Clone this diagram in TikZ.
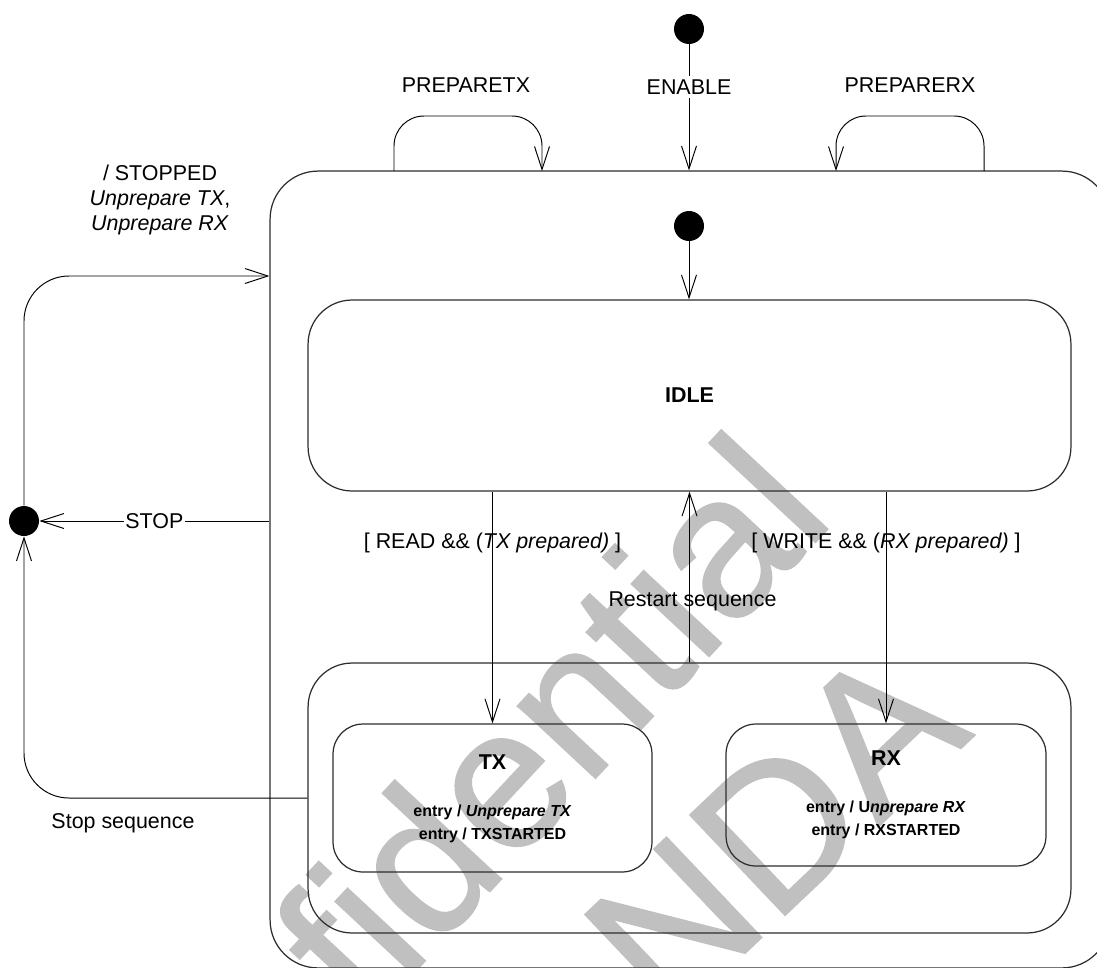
\documentclass[tikz,border=0pt]{standalone}
\usepackage{fontspec}
\setmainfont{Liberation Sans}
\newfontfamily\wmfont[FakeBold=1]{Liberation Sans}
\usetikzlibrary{arrows.meta,positioning}
\definecolor{wmgray}{RGB}{192,192,192}
\definecolor{boxline}{RGB}{45,45,45}

\begin{document}
\begin{tikzpicture}[x=0.02cm,y=-0.02cm,
  every node/.style={font=\fontsize{12.2}{14.2}\selectfont},
  statebox/.style={draw=boxline,line width=0.7pt,rounded corners=#1,inner sep=0pt},
  dot/.style={circle,fill=black,minimum size=0.6cm,inner sep=0pt},
  trans/.style={line width=0.55pt,-{Straight Barb[length=4.6mm,width=3mm]}},
  bold/.style={font=\fontsize{12.2}{14.2}\selectfont\bfseries},
  entry/.style={font=\fontsize{9.1}{13}\selectfont\bfseries,align=center},
  wmark/.style={text=wmgray,font=\wmfont\fontsize{114}{114}\selectfont,inner sep=0pt}]
\useasboundingbox (0,0) rectangle (1097,967);

% watermark
\node[wmark,rotate=47,anchor=base] (wmconf) at (476,906) {Confidential};
\node[wmark,rotate=43.5,anchor=base west] (wmnda) at (668,1026) {NDA};

% states
\node[statebox=0.96cm,minimum width=16.8cm,minimum height=15.94cm] (outer) at (690,569.5) {};
\node[statebox=0.88cm,minimum width=15.26cm,minimum height=3.82cm,bold] (idle) at (689.5,395.5) {IDLE};
\node[statebox=0.88cm,minimum width=15.26cm,minimum height=5.4cm] (active) at (689.5,798) {};
\node[statebox=0.6cm,minimum width=6.38cm,minimum height=2.96cm] (tx) at (492.5,798) {};
\node[statebox=0.6cm,minimum width=6.4cm,minimum height=2.84cm] (rx) at (886,795) {};
\node[bold] (txname) at (492.5,762) {TX};
\node[entry] (txentry) at (492.5,823.5) {entry / \textit{Unprepare TX}\\entry / TXSTARTED};
\node[bold] (rxname) at (886,758) {RX};
\node[entry] (rxentry) at (886,820) {entry / U\textit{nprepare RX}\\entry / RXSTARTED};

% pseudo states
\node[dot] (start) at (689,29) {};
\node[dot] (init) at (689,226) {};
\node[dot] (final) at (24,521) {};

% transitions
\draw[trans] (start) -- node[pos=0.34,fill=white,inner sep=2pt] (enable) {ENABLE} (start |- outer.north);
\coordinate (ptxout) at (394,171);
\coordinate (ptxin) at (542,171);
\draw[trans,rounded corners=0.6cm] (ptxout) -- ++(0,-55) -| (ptxin);
\node (preptx) at (466,85) {PREPARETX};
\coordinate (prxout) at (984,171);
\coordinate (prxin) at (836,171);
\draw[trans,rounded corners=0.6cm] (prxout) -- ++(0,-55) -| (prxin);
\node (preprx) at (910,85) {PREPARERX};

\draw[trans] (init) -- (init |- idle.north);
\draw[trans] (txname |- idle.south) -- node[pos=0.22] (read) {[ READ \&\& (\textit{TX prepared)} ]} (tx.north);
\draw[trans] (rxname |- idle.south) -- node[pos=0.22] (write) {[ WRITE \&\& (\textit{RX prepared)} ]} (rx.north);
\draw[trans] (active.north) -- node[pos=0.355,xshift=0.06cm] (restart) {Restart sequence} (active.north |- idle.south);

\draw[trans] (outer.west |- final) -- node[fill=white,inner sep=1pt] (stop) {STOP} (final);
\draw[trans,rounded corners=0.9cm] (active.west) -| (final);
\node (stopseq) at (123,823) {Stop sequence};
\coordinate (reentry) at (outer.west |- 0,276);
\draw[trans,rounded corners=0.9cm] (final) |- (reentry);
\node[align=center] (stopped) at (160,200) {/ STOPPED\\\textit{Unprepare TX},\\\textit{Unprepare RX}};
\end{tikzpicture}
\end{document}
